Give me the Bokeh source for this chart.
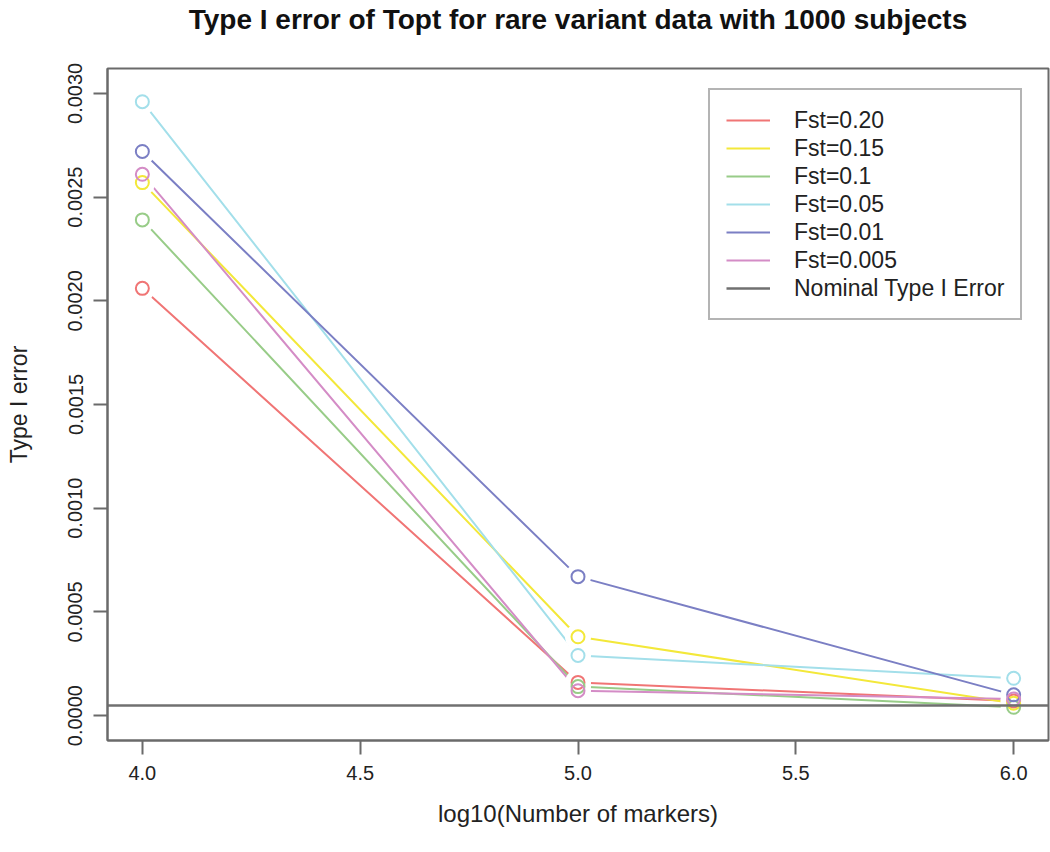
from bokeh.plotting import figure
from bokeh.models import Legend, LegendItem, FixedTicker, NumeralTickFormatter, Range1d, Title
from bokeh.embed import file_html
from bokeh.resources import INLINE

# ---- data ----
x_markers = [4.0, 5.0, 6.0]
fst_020 = [0.00206, 0.00016, 0.00007]
fst_015 = [0.00257, 0.00038, 0.00006]
fst_010 = [0.00239, 0.00014, 0.00004]
fst_005 = [0.00296, 0.00029, 0.00018]
fst_001 = [0.00272, 0.00067, 0.00010]
fst_0005 = [0.00261, 0.00012, 0.00008]
series_labels = ["Fst=0.20", "Fst=0.15", "Fst=0.1", "Fst=0.05", "Fst=0.01", "Fst=0.005"]
series_values = [fst_020, fst_015, fst_010, fst_005, fst_001, fst_0005]
series_colors = ["#f07575", "#f3e83a", "#98cc88", "#a3dfea", "#7b7fc4", "#d48cc6"]
nominal_error = [0.00005]
nominal_label = "Nominal Type I Error"
title_text = "Type I error of Topt for rare variant data with 1000 subjects"
y_ticks = [0.0, 0.0005, 0.0010, 0.0015, 0.0020, 0.0025, 0.0030]
x_ticks = [4.0, 4.5, 5.0, 5.5, 6.0]

FONT = "Liberation Sans"
AX = "#6a6a6a"

p = figure(width=1050, height=852,
           x_range=Range1d(3.92, 6.08), y_range=Range1d(-0.00012, 0.00312),
           output_backend="svg", toolbar_location=None,
           min_border_left=107, min_border_right=2, min_border_top=68, min_border_bottom=112,
           title=title_text)

p.title.text_font = FONT
p.title.text_font_style = "bold"
p.title.text_font_size = "28px"
p.title.align = "center"
p.title.vertical_align = "top"
p.title.text_color = "#111111"
p.title.standoff = 6

# spacer between title and frame (keeps the title near the top like R's main title)
p.add_layout(Title(text=" ", text_font_size="1px", standoff=26), "above")

p.grid.visible = False
p.outline_line_color = AX
p.outline_line_width = 2
p.background_fill_color = "white"
p.border_fill_color = "white"

for ax in (p.xaxis[0], p.yaxis[0]):
    ax.axis_line_color = AX
    ax.axis_line_width = 2
    ax.major_tick_line_color = AX
    ax.major_tick_line_width = 2
    ax.major_tick_out = 14
    ax.major_tick_in = 0
    ax.minor_tick_line_color = None
    ax.major_label_text_font = FONT
    ax.major_label_text_font_size = "20px"
    ax.major_label_text_color = "#222222"
    ax.axis_label_text_font = FONT
    ax.axis_label_text_font_style = "normal"
    ax.axis_label_text_color = "#222222"

p.xaxis.ticker = FixedTicker(ticks=x_ticks)
p.xaxis.formatter = NumeralTickFormatter(format="0.0")
p.xaxis.axis_label = "log10(Number of markers)"
p.xaxis.axis_label_text_font_size = "24px"
p.xaxis.major_label_standoff = 11
p.xaxis.axis_label_standoff = 17

p.yaxis.ticker = FixedTicker(ticks=y_ticks)
p.yaxis.formatter = NumeralTickFormatter(format="0.0000")
p.yaxis.major_label_orientation = "vertical"
p.yaxis.axis_label = "Type I error"
p.yaxis.axis_label_text_font_size = "23px"
p.yaxis.major_label_standoff = 11
p.yaxis.axis_label_standoff = 34

# lines
line_renderers = []
for vals, col in zip(series_values, series_colors):
    r = p.line(x_markers, vals, line_color=col, line_width=2)
    line_renderers.append(r)
# gaps around points (R type="b")
for vals in series_values:
    p.scatter(x_markers, vals, marker="circle", size=26, fill_color="white", line_color=None)
# open circles
for vals, col in zip(series_values, series_colors):
    p.scatter(x_markers, vals, marker="circle", size=13, fill_color=None, line_color=col, line_width=2)

nom_r = p.hspan(y=nominal_error, line_color="#707070", line_width=2.5)

items = [LegendItem(label=lab, renderers=[r]) for lab, r in zip(series_labels, line_renderers)]
items.append(LegendItem(label=nominal_label, renderers=[nom_r]))
legend = Legend(items=items, location=(601, 420))
legend.label_text_font = FONT
legend.label_text_font_size = "23px"
legend.label_text_color = "#222222"
legend.label_height = 28
legend.glyph_height = 28
legend.glyph_width = 44
legend.spacing = 0
legend.padding = 16
legend.margin = 0
legend.label_standoff = 24
legend.border_line_color = AX
legend.border_line_width = 2
legend.background_fill_alpha = 1.0
p.add_layout(legend, "center")

open("out.html", "w").write(file_html(p, INLINE))
